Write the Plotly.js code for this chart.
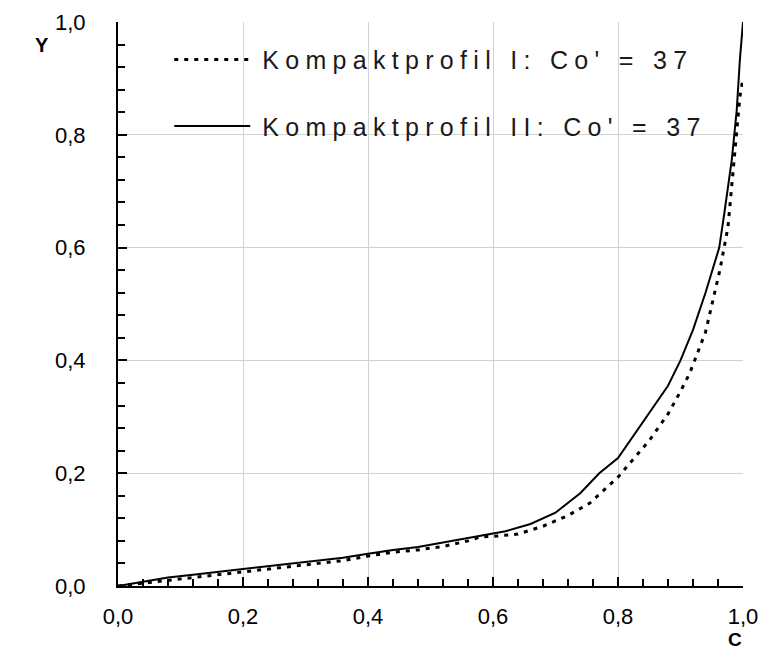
<!DOCTYPE html>
<html>
<head>
<meta charset="utf-8">
<script src="https://cdn.plot.ly/plotly-3.0.1.min.js"></script>
<style>html,body{margin:0;padding:0;background:#fff;}</style>
</head>
<body>
<div id="chart" style="width:761px;height:650px;"></div>
<script>
// Kompaktprofil I (dotted)
const xI = [0, 0.04, 0.08, 0.12, 0.2, 0.28, 0.36, 0.4, 0.44, 0.48, 0.52, 0.56, 0.58, 0.6, 0.64, 0.68, 0.72, 0.755, 0.787, 0.8, 0.85, 0.88, 0.9, 0.915, 0.94, 0.963, 0.976, 0.982, 0.987, 0.992, 0.995, 1.0];
const yI = [0, 0.005, 0.011, 0.016, 0.025, 0.035, 0.045, 0.053, 0.06, 0.064, 0.07, 0.08, 0.087, 0.088, 0.092, 0.106, 0.125, 0.147, 0.179, 0.193, 0.258, 0.305, 0.345, 0.378, 0.45, 0.56, 0.637, 0.707, 0.773, 0.826, 0.867, 0.90];
// Kompaktprofil II (solid)
const xII = [0, 0.04, 0.08, 0.12, 0.2, 0.28, 0.36, 0.4, 0.44, 0.48, 0.52, 0.56, 0.6, 0.62, 0.66, 0.7, 0.74, 0.77, 0.8, 0.84, 0.88, 0.9, 0.92, 0.94, 0.962, 0.97, 0.982, 0.99, 0.995, 1.0];
const yII = [0, 0.007, 0.015, 0.02, 0.03, 0.041, 0.05, 0.057, 0.064, 0.069, 0.077, 0.085, 0.093, 0.097, 0.11, 0.13, 0.165, 0.2, 0.227, 0.29, 0.355, 0.40, 0.454, 0.52, 0.60, 0.66, 0.755, 0.844, 0.933, 1.0];

const seriesNames = ["Kompaktprofil I: Co' = 37", "Kompaktprofil II: Co' = 37"];
const xTitle = "C";
const yTitle = "Y";

const FONT = "Liberation Sans, Arial, sans-serif";

const traces = [
  {x: xI, y: yI, type: 'scatter', mode: 'lines', name: seriesNames[0], legendgroup: 'a',
   line: {color: '#000', width: 3, dash: '4px,6px'}},
  {x: xII, y: yII, type: 'scatter', mode: 'lines', name: seriesNames[1], legendgroup: 'b',
   line: {color: '#000', width: 2}}
];

const axisCommon = {
  range: [0, 1], dtick: 0.2, tick0: 0, tickformat: '.1f',
  showline: true, linecolor: '#000', linewidth: 2,
  ticks: 'inside', ticklen: 9, tickwidth: 2, tickcolor: '#000',
  minor: {dtick: 0.04, tick0: 0, ticks: 'inside', ticklen: 7, tickwidth: 2, tickcolor: '#000', showgrid: false},
  showgrid: true, gridcolor: '#d2d2d2', gridwidth: 1,
  zeroline: false, fixedrange: true,
  tickfont: {family: FONT, size: 22, color: '#000'}
};

const layout = {
  width: 761, height: 650,
  margin: {l: 118, r: 18, t: 22, b: 64},
  paper_bgcolor: '#fff', plot_bgcolor: '#fff',
  separators: ', ',
  font: {family: FONT, color: '#000'},
  xaxis: Object.assign({}, axisCommon, {ticklabelstandoff: 10}),
  yaxis: Object.assign({}, axisCommon, {ticklabelstandoff: 26}),
  showlegend: true,
  legend: {
    x: 0.082, y: 0.974, xanchor: 'left', yanchor: 'top',
    bgcolor: 'rgba(0,0,0,0)', borderwidth: 0,
    font: {family: FONT, size: 25, color: '#1a1a1a'},
    itemwidth: 76, tracegroupgap: 31, traceorder: 'grouped'
  },
  shapes: [
    {type: 'rect', xref: 'paper', yref: 'paper', x0: 0.024, x1: 0.984, y0: 0.754, y1: 0.989,
     fillcolor: '#fff', line: {width: 0}, layer: 'between'}
  ],
  annotations: [
    {text: '<b>' + yTitle + '</b>', xref: 'paper', yref: 'paper', x: -0.122, y: 0.959,
     xanchor: 'center', yanchor: 'middle',
     showarrow: false, font: {family: FONT, size: 20, color: '#000'}},
    {text: '<b>' + xTitle + '</b>', xref: 'paper', yref: 'paper', x: 0.987, y: -0.094,
     xanchor: 'center', yanchor: 'middle',
     showarrow: false, font: {family: FONT, size: 19, color: '#000'}}
  ]
};

Plotly.newPlot('chart', traces, layout, {displayModeBar: false, staticPlot: true}).then(function (gd) {
  gd.querySelectorAll('.legendtext').forEach(function (t) {
    t.style.letterSpacing = '6.3px';
    var x0 = parseFloat(t.getAttribute('x') || '0');
    t.setAttribute('x', x0 + 7);
  });
  var sb = gd.querySelector('.legend .scrollbox');
  if (sb) sb.removeAttribute('clip-path');
  var lg = gd.querySelector('.legend');
  if (lg) lg.removeAttribute('clip-path');
});
</script>
</body>
</html>
